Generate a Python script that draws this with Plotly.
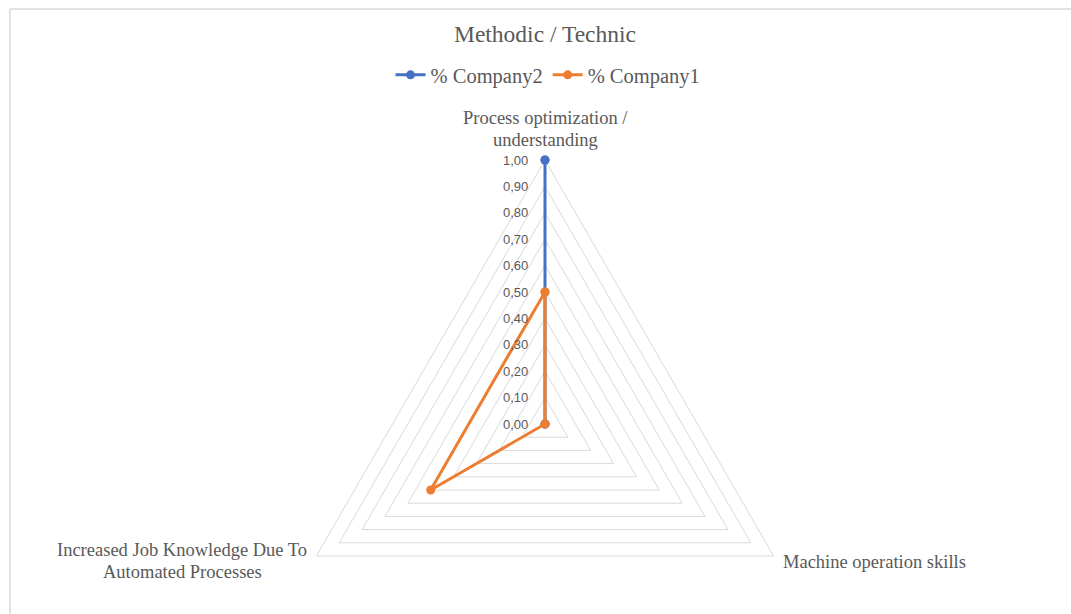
import math
import plotly.graph_objects as go

# Radar data (clockwise from the top)
categories = [
    ["Process optimization /", "understanding"],
    ["Machine operation skills"],
    ["Increased Job Knowledge Due To", "Automated Processes"],
]
company2 = [1.00, 0.00, 0.00]
company1 = [0.50, 0.00, 0.50]
ticks = [0.0, 0.1, 0.2, 0.3, 0.4, 0.5, 0.6, 0.7, 0.8, 0.9, 1.0]
tick_labels = ["0,00", "0,10", "0,20", "0,30", "0,40", "0,50",
               "0,60", "0,70", "0,80", "0,90", "1,00"]

W, H = 1071, 614
CX, CY, R = 545, 424, 264  # radar centre and radius in pixels

GRID = "#d9d9d9"
TEXT = "#595959"
BLUE = "#4472C4"
ORANGE = "#ED7D31"
SERIF = "Liberation Serif, Times New Roman, serif"
SANS = "Liberation Sans, Arial, sans-serif"
LINE_GAP = 22  # px between lines of a category label

n = len(categories)
angles = [math.radians(90 - 360 * i / n) for i in range(n)]


def to_xy(values):
    xs = [v * math.cos(a) for v, a in zip(values, angles)]
    ys = [v * math.sin(a) for v, a in zip(values, angles)]
    return xs + xs[:1], ys + ys[:1]


fig = go.Figure()

# Polygon gridlines
gx, gy = [], []
for t in ticks[1:]:
    xs, ys = to_xy([t] * n)
    gx += xs + [None]
    gy += ys + [None]
fig.add_trace(go.Scatter(x=gx, y=gy, mode="lines", hoverinfo="skip",
                         line=dict(color=GRID, width=1), showlegend=False))

for name, vals, col in [("% Company2", company2, BLUE),
                        ("% Company1", company1, ORANGE)]:
    xs, ys = to_xy(vals)
    fig.add_trace(go.Scatter(x=xs, y=ys, mode="lines+markers", name=name,
                             line=dict(color=col, width=3),
                             marker=dict(color=col, size=9)))

# Radial tick labels along the vertical axis
for t, lab in zip(ticks, tick_labels):
    fig.add_annotation(x=0, y=t, xref="x", yref="y", text=lab, showarrow=False,
                       xanchor="right", yanchor="middle", xshift=-15,
                       font=dict(family=SANS, size=13, color=TEXT))

# Category labels, one annotation per text line
bx, by = to_xy([1.0] * n)
label_place = [
    # xanchor, xshift, yshift of first line (pixels from the spoke end)
    ("center", 0, 42),
    ("left", 7, -6),
    ("center", -134, 6),
]
for i, lines in enumerate(categories):
    anchor, xsh, ysh = label_place[i]
    for j, line in enumerate(lines):
        fig.add_annotation(x=bx[i], y=by[i], xref="x", yref="y", text=line,
                           showarrow=False, xanchor=anchor, yanchor="middle",
                           xshift=xsh, yshift=ysh - j * LINE_GAP,
                           font=dict(family=SERIF, size=18.5, color=TEXT))

# Chart-area border
fig.add_shape(type="line", xref="paper", yref="paper",
              x0=10 / W, x1=1.0, y0=1 - 9 / H, y1=1 - 9 / H,
              line=dict(color=GRID, width=1.5))
fig.add_shape(type="line", xref="paper", yref="paper",
              x0=10 / W, x1=10 / W, y0=1 - 9 / H, y1=0,
              line=dict(color=GRID, width=1.5))

fig.update_layout(
    width=W, height=H,
    margin=dict(l=0, r=0, t=0, b=0),
    paper_bgcolor="white", plot_bgcolor="white",
    title=dict(text="Methodic / Technic", x=CX / W, y=1 - 34 / H,
               xanchor="center", yanchor="middle",
               font=dict(family=SERIF, size=23.5, color=TEXT)),
    legend=dict(orientation="h", x=548 / W, y=1 - 75 / H,
                xanchor="center", yanchor="middle",
                font=dict(family=SERIF, size=20.5, color=TEXT),
                itemwidth=30, bgcolor="rgba(0,0,0,0)"),
    xaxis=dict(range=[-CX / R, (W - CX) / R], visible=False, fixedrange=True),
    yaxis=dict(range=[-(H - CY) / R, CY / R], visible=False, fixedrange=True),
    showlegend=True,
)

fig.write_html("out.html")
